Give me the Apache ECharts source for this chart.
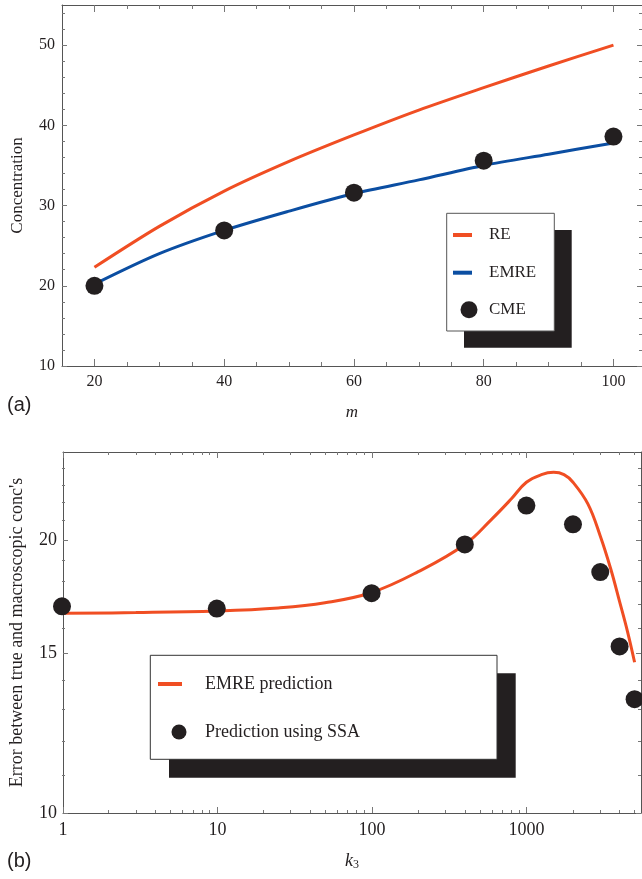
<!DOCTYPE html>
<html>
<head>
<meta charset="utf-8">
<script src="https://cdn.jsdelivr.net/npm/echarts@6.0.0/dist/echarts.min.js"></script>
<style>
html,body{margin:0;padding:0;background:#fff;}
#chart{width:642px;height:879px;}
</style>
</head>
<body>
<div id="chart"></div>
<script>
// ---- Panel (a) data ----
const mValues = [20, 30, 40, 50, 60, 70, 80, 90, 100];
const reValues = [22.3, 27.4, 31.8, 35.5, 38.8, 41.9, 44.7, 47.4, 50.0];
const emreValues = [20.2, 24.0, 26.9, 29.3, 31.5, 33.2, 35.0, 36.4, 37.8];
const cmeM = [20, 40, 60, 80, 100];
const cmeValues = [20.0, 26.9, 31.6, 35.6, 38.6];
const aXTicks = [20, 40, 60, 80, 100];
const aXMinor = [25, 30, 35, 45, 50, 55, 65, 70, 75, 85, 90, 95];
const aYTicks = [10, 20, 30, 40, 50];
const aYMinor = [12, 14, 16, 18, 22, 24, 26, 28, 32, 34, 36, 38, 42, 44, 46, 48, 52, 54];

// ---- Panel (b) data ----
const k3Line = [1, 3, 10, 25, 50, 100, 200, 400, 600, 800, 1000, 1250, 1500, 1750, 2000, 2500, 3000, 3500, 4000, 4500, 5000];
const emrePred = [16.6, 16.63, 16.7, 16.83, 17.05, 17.5, 18.45, 19.77, 21.1, 22.2, 23.15, 23.6, 23.74, 23.6, 23.15, 21.9, 20.2, 18.6, 17.1, 15.85, 14.66];
const k3Dots = [1, 10, 100, 400, 1000, 2000, 3000, 4000, 5000];
const ssaValues = [16.9, 16.8, 17.47, 19.77, 21.82, 20.81, 18.43, 15.26, 13.35];
const bXTicks = [1, 10, 100, 1000];
const bXMinor = [2, 3, 4, 5, 6, 7, 8, 9, 20, 30, 40, 50, 60, 70, 80, 90, 200, 300, 400, 500, 600, 700, 800, 900, 2000, 3000, 4000, 5000];
const bYTicks = [10, 15, 20];
const bYMinor = [11, 12, 13, 14, 16, 17, 18, 19, 21, 22, 23, 24];

const SERIF = '"Liberation Serif", "DejaVu Serif", serif';
const TXT = '#231f20';
const AX = '#555';
const ORANGE = '#f04e23';
const BLUE = '#0b4ea2';
const DOT = '#231f20';

const L10 = Math.log10;
const fmtPow = v => String(Math.round(Math.pow(10, v)));

const gridA = {left: 62, top: 5, width: 580, height: 361};
const gridB = {left: 62, top: 452, width: 579, height: 361};

function tickAxis(o) {
  return Object.assign({
    type: 'value',
    axisLine: {show: o.line !== false, onZero: false, lineStyle: {color: AX, width: 1}},
    axisTick: {show: true, inside: true, length: o.len, customValues: o.ticks, lineStyle: {color: '#777', width: 1}},
    axisLabel: o.labels ? {show: true, customValues: o.labels, color: TXT, fontFamily: SERIF, fontSize: o.fs, margin: o.margin, formatter: o.fmt} : {show: false},
    splitLine: {show: false},
    minorTick: {show: false}
  }, o.extra);
}

const xAxes = [
  tickAxis({len: 7, ticks: aXTicks, labels: aXTicks, fs: 16, margin: 8, extra: {gridIndex: 0, position: 'bottom', min: 15, max: 104.4,
    name: 'm', nameLocation: 'middle', nameGap: 38, nameTextStyle: {fontFamily: SERIF, fontStyle: 'italic', fontSize: 17, color: TXT}}}),
  tickAxis({len: 7, ticks: aXTicks, extra: {gridIndex: 0, position: 'top', min: 15, max: 104.4}}),
  tickAxis({len: 4, ticks: aXMinor, line: false, extra: {gridIndex: 1, position: 'bottom', min: 15, max: 104.4}}),
  tickAxis({len: 4, ticks: aXMinor, line: false, extra: {gridIndex: 1, position: 'top', min: 15, max: 104.4}}),
  tickAxis({len: 6, ticks: bXTicks.map(L10), labels: bXTicks.map(L10), fs: 18, margin: 8, fmt: fmtPow,
    extra: {gridIndex: 2, position: 'bottom', min: 0, max: L10(5500),
    name: '{i|k}{s|3}', nameLocation: 'middle', nameGap: 38,
    nameTextStyle: {fontFamily: SERIF, fontSize: 18, color: TXT, rich: {i: {fontStyle: 'italic', fontFamily: SERIF, fontSize: 18, color: TXT}, s: {fontFamily: SERIF, fontSize: 12, color: TXT, verticalAlign: 'bottom', padding: [8, 0, 0, 0]}}}}}),
  tickAxis({len: 6, ticks: bXTicks.map(L10), extra: {gridIndex: 2, position: 'top', min: 0, max: L10(5500)}}),
  tickAxis({len: 3, ticks: bXMinor.map(L10), line: false, extra: {gridIndex: 3, position: 'bottom', min: 0, max: L10(5500)}}),
  tickAxis({len: 3, ticks: bXMinor.map(L10), line: false, extra: {gridIndex: 3, position: 'top', min: 0, max: L10(5500)}}),
  {gridIndex: 4, type: 'log', logBase: 10, min: 1, max: 5500, show: false}
];

const yAxes = [
  tickAxis({len: 5, ticks: aYTicks, labels: aYTicks, fs: 16, margin: 7, extra: {gridIndex: 0, position: 'left', min: 10, max: 55,
    name: 'Concentration', nameLocation: 'middle', nameGap: 36, nameTextStyle: {fontFamily: SERIF, fontSize: 17, color: TXT}}}),
  tickAxis({len: 5, ticks: aYTicks, extra: {gridIndex: 0, position: 'right', min: 10, max: 55}}),
  tickAxis({len: 3, ticks: aYMinor, line: false, extra: {gridIndex: 1, position: 'left', min: 10, max: 55}}),
  tickAxis({len: 3, ticks: aYMinor, line: false, extra: {gridIndex: 1, position: 'right', min: 10, max: 55}}),
  tickAxis({len: 5, ticks: bYTicks.map(L10), labels: bYTicks.map(L10), fs: 18, margin: 6, fmt: fmtPow,
    extra: {gridIndex: 2, position: 'left', min: 1, max: L10(25),
    name: "Error between true and macroscopic conc's", nameLocation: 'middle', nameGap: 37, nameTextStyle: {fontFamily: SERIF, fontSize: 18, color: TXT}}}),
  tickAxis({len: 5, ticks: bYTicks.map(L10), extra: {gridIndex: 2, position: 'right', min: 1, max: L10(25)}}),
  tickAxis({len: 3, ticks: bYMinor.map(L10), line: false, extra: {gridIndex: 3, position: 'left', min: 1, max: L10(25)}}),
  tickAxis({len: 3, ticks: bYMinor.map(L10), line: false, extra: {gridIndex: 3, position: 'right', min: 1, max: L10(25)}}),
  {gridIndex: 4, type: 'log', logBase: 10, min: 10, max: 25, show: false}
];

const zip = (a, b) => a.map((v, i) => [v, b[i]]);

const legendText = (fs, padLeft) => ({fontFamily: SERIF, fontSize: fs, color: TXT, lineHeight: 20, padding: [0, 0, 0, padLeft]});

const option = {
  animation: false,
  backgroundColor: '#fff',
  grid: [gridA, gridA, gridB, gridB, gridB].map(g => Object.assign({containLabel: false}, g)),
  xAxis: xAxes,
  yAxis: yAxes,
  legend: [
    {orient: 'vertical', left: 453, top: 225, padding: 0, itemGap: 17.7, itemWidth: 19, itemHeight: 4, z: 10,
      data: [{name: 'RE', icon: 'rect'}, {name: 'EMRE', icon: 'rect'}], textStyle: legendText(17, 12)},
    {orient: 'vertical', left: 460.5, top: 299.7, padding: 0, itemWidth: 17, itemHeight: 17, z: 10,
      data: [{name: 'CME', icon: 'circle'}], textStyle: legendText(17, 6.5)},
    {orient: 'vertical', left: 158, top: 674, padding: 0, itemWidth: 24, itemHeight: 4, z: 10,
      data: [{name: 'EMRE prediction', icon: 'rect'}], textStyle: legendText(18, 18)},
    {orient: 'vertical', left: 171.5, top: 722, padding: 0, itemWidth: 15, itemHeight: 15, z: 10,
      data: [{name: 'Prediction using SSA', icon: 'circle'}], textStyle: legendText(18, 13.5)}
  ],
  graphic: [
    {type: 'rect', z: 5, shape: {x: 464, y: 230, width: 107.7, height: 117.7}, style: {fill: '#231f20'}},
    {type: 'rect', z: 6, shape: {x: 446.7, y: 213.3, width: 107.6, height: 117.7}, style: {fill: '#fff', stroke: '#555', lineWidth: 1}},
    {type: 'rect', z: 5, shape: {x: 169, y: 673.3, width: 346.7, height: 104.4}, style: {fill: '#231f20'}},
    {type: 'rect', z: 6, shape: {x: 150.3, y: 655.3, width: 346.7, height: 104}, style: {fill: '#fff', stroke: '#333', lineWidth: 1}},
    {type: 'text', z: 6, left: 7, top: 395, style: {text: '(a)', font: '20px "Liberation Sans", Arial, sans-serif', fill: TXT}},
    {type: 'text', z: 6, left: 7, top: 851, style: {text: '(b)', font: '20px "Liberation Sans", Arial, sans-serif', fill: TXT}}
  ],
  series: [
    {name: 'RE', type: 'line', xAxisIndex: 0, yAxisIndex: 0, data: zip(mValues, reValues), smooth: 0.3, showSymbol: false,
      lineStyle: {color: ORANGE, width: 3}, itemStyle: {color: ORANGE}, z: 3},
    {name: 'EMRE', type: 'line', xAxisIndex: 0, yAxisIndex: 0, data: zip(mValues, emreValues), smooth: 0.3, showSymbol: false,
      lineStyle: {color: BLUE, width: 3}, itemStyle: {color: BLUE}, z: 3},
    {name: 'CME', type: 'scatter', xAxisIndex: 0, yAxisIndex: 0, data: zip(cmeM, cmeValues), symbolSize: 18,
      itemStyle: {color: DOT, opacity: 1}, z: 4},
    {name: 'EMRE prediction', type: 'line', xAxisIndex: 8, yAxisIndex: 8, data: zip(k3Line, emrePred), smooth: 0.4, showSymbol: false,
      lineStyle: {color: ORANGE, width: 3}, itemStyle: {color: ORANGE}, z: 3},
    {name: 'Prediction using SSA', type: 'scatter', xAxisIndex: 8, yAxisIndex: 8, data: zip(k3Dots, ssaValues), symbolSize: 18,
      itemStyle: {color: DOT, opacity: 1}, z: 4}
  ]
};

const chart = echarts.init(document.getElementById('chart'), null, {renderer: 'canvas'});
chart.setOption(option);
</script>
</body>
</html>
